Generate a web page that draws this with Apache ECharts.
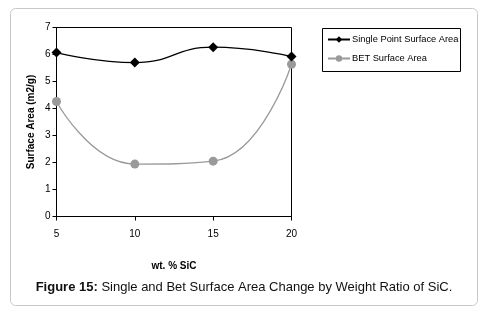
<!DOCTYPE html>
<html><head><meta charset="utf-8">
<script src="https://cdn.jsdelivr.net/npm/echarts@6/dist/echarts.min.js"></script>
<style>html,body{margin:0;padding:0;background:#fff}#c{width:488px;height:310px}</style>
</head><body><div id="c"></div>
<script>
var xValues = [5, 10, 15, 20];
var singlePoint = [6.07, 5.70, 6.27, 5.93];
var betArea = [4.26, 1.94, 2.05, 5.64];
var yTicks = [0, 1, 2, 3, 4, 5, 6, 7];

var chart = echarts.init(document.getElementById('c'), null, {renderer: 'canvas'});
var font = '"Liberation Sans", Arial, sans-serif';
chart.setOption({
  animation: false,
  graphic: [
    {type: 'rect', shape: {x: 10.5, y: 8.5, width: 467, height: 297, r: 5}, style: {fill: 'none', stroke: '#c8c8c8', lineWidth: 1}},
    {type: 'rect', shape: {x: 322.5, y: 28.5, width: 138, height: 43}, style: {fill: '#fff', stroke: '#000', lineWidth: 1}},
    {type: 'text', x: 244, y: 281, style: {text: '{b|Figure 15:} Single and Bet Surface Area Change by Weight Ratio of SiC.', rich: {b: {fontWeight: 'bold', fontSize: 13, fontFamily: 'Liberation Sans, Arial'}}, fontSize: 13, fontFamily: 'Liberation Sans, Arial', fill: '#111', align: 'center'}}
  ],
  grid: {left: 56.5, top: 27.5, width: 235, height: 189, show: true, borderColor: '#000', borderWidth: 1, backgroundColor: 'transparent'},
  legend: {
    left: 322, top: 30, orient: 'vertical', itemGap: 10, itemWidth: 22, itemHeight: 8,
    textStyle: {fontSize: 9.3, fontFamily: font, color: '#000', padding: [0, 0, 0, -3]},
    data: ['Single Point Surface Area', 'BET Surface Area']
  },
  xAxis: {
    type: 'value', min: 5, max: 20, interval: 5,
    name: 'wt. % SiC', nameLocation: 'middle', nameGap: 45,
    nameTextStyle: {fontWeight: 'bold', fontSize: 10, fontFamily: font, color: '#000'},
    axisLine: {lineStyle: {color: '#000'}},
    axisTick: {show: true, inside: false, length: 4, lineStyle: {color: '#000'}},
    axisLabel: {fontSize: 10, fontFamily: font, color: '#000', margin: 13},
    splitLine: {show: false}
  },
  yAxis: {
    type: 'value', min: 0, max: 7, interval: 1,
    name: 'Surface Area (m2/g)', nameLocation: 'middle', nameGap: 20,
    nameTextStyle: {fontWeight: 'bold', fontSize: 10, fontFamily: font, color: '#000'},
    axisLine: {show: true, lineStyle: {color: '#000'}},
    axisTick: {show: true, inside: false, length: 4, lineStyle: {color: '#000'}},
    axisLabel: {fontSize: 10, fontFamily: font, color: '#000', margin: 6},
    splitLine: {show: false}
  },
  series: [
    {
      name: 'Single Point Surface Area', type: 'line', smooth: 0.5,
      data: xValues.map(function (x, i) { return [x, singlePoint[i]]; }),
      symbol: 'diamond', symbolSize: 10,
      lineStyle: {color: '#000', width: 1.3},
      itemStyle: {color: '#000'}, z: 3
    },
    {
      name: 'BET Surface Area', type: 'line', smooth: 0.5,
      data: xValues.map(function (x, i) { return [x, betArea[i]]; }),
      symbol: 'circle', symbolSize: 9,
      lineStyle: {color: '#9a9a9a', width: 1.3},
      itemStyle: {color: '#9a9a9a'}, z: 2
    }
  ]
});
</script></body></html>
